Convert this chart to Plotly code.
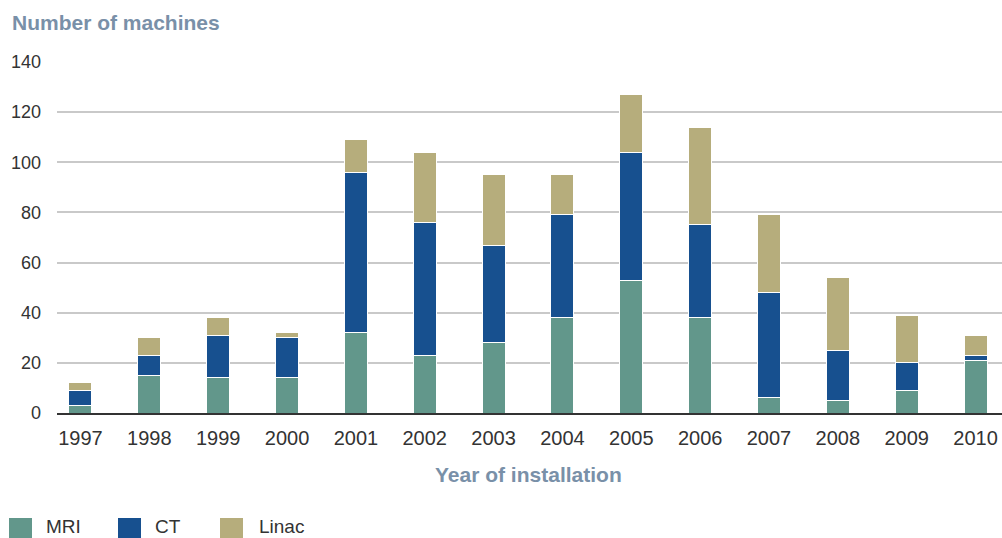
import plotly.graph_objects as go

years = ["1997", "1998", "1999", "2000", "2001", "2002", "2003",
         "2004", "2005", "2006", "2007", "2008", "2009", "2010"]
mri = [3, 15, 14, 14, 32, 23, 28, 38, 53, 38, 6, 5, 9, 21]
ct = [6, 8, 17, 16, 64, 53, 39, 41, 51, 37, 42, 20, 11, 2]
linac = [3, 7, 7, 2, 13, 28, 28, 16, 23, 39, 31, 29, 19, 8]
series_names = ["MRI", "CT", "Linac"]
y_ticks = [0, 20, 40, 60, 80, 100, 120, 140]

colors = ["#62978b", "#17508f", "#b6ad7c"]
W, H = 1002, 538
L, R, T, B = 57, 0, 62, 125
PW, PH = W - L - R, H - T - B

def px(x):
    return (x - L) / PW

def py(y):
    return (H - B - y) / PH

fig = go.Figure()
for name, vals, col in zip(series_names, [mri, ct, linac], colors):
    fig.add_trace(go.Bar(
        x=years, y=vals, name=name, marker_color=col,
        marker_line_color="white", marker_line_width=1,
        showlegend=False,
    ))

font_family = "Liberation Sans, Arial, sans-serif"
title_col = "#7990a8"

annotations = [
    dict(text="<b>Number of machines</b>", x=px(10), y=py(23), xref="paper", yref="paper",
         xanchor="left", yanchor="middle", showarrow=False,
         font=dict(size=21, color=title_col, family=font_family)),
    dict(text="<b>Year of installation</b>", x=px(528), y=py(474), xref="paper", yref="paper",
         xanchor="center", yanchor="middle", showarrow=False,
         font=dict(size=21, color=title_col, family=font_family)),
]
shapes = []
leg_x = [9, 118, 220]
leg_tx = [44, 153, 257]
for name, col, sx, tx in zip(series_names, colors, leg_x, leg_tx):
    shapes.append(dict(type="rect", xref="paper", yref="paper",
                       x0=px(sx), x1=px(sx + 23), y0=py(539), y1=py(518),
                       fillcolor=col, line_width=0, layer="above"))
    annotations.append(dict(text=name, x=px(tx), y=py(526), xref="paper", yref="paper",
                            xanchor="left", yanchor="middle", showarrow=False,
                            font=dict(size=19, color="#333333", family=font_family)))

fig.update_layout(
    barmode="stack",
    bargap=0.666,
    width=W, height=H,
    margin=dict(l=L, r=R, t=T, b=B, pad=0),
    paper_bgcolor="white", plot_bgcolor="white",
    font=dict(family=font_family, size=18, color="#333333"),
    annotations=annotations,
    shapes=shapes,
    xaxis=dict(type="category", range=[-0.341, 13.384], showgrid=False,
               showline=True, linecolor="#333333", linewidth=1.5,
               ticks="", ticklabelstandoff=6,
               tickfont=dict(size=20, color="#333333")),
    yaxis=dict(range=[0, 140], tickvals=y_ticks, showgrid=True,
               gridcolor="#c9c9c9", gridwidth=1.5, zeroline=False,
               showline=False, ticks="", ticklabelstandoff=15,
               tickfont=dict(size=18, color="#333333")),
)

fig.write_html("out.html", config={"displayModeBar": False},
               post_script="document.body.style.margin='0';document.body.style.overflow='hidden';")
